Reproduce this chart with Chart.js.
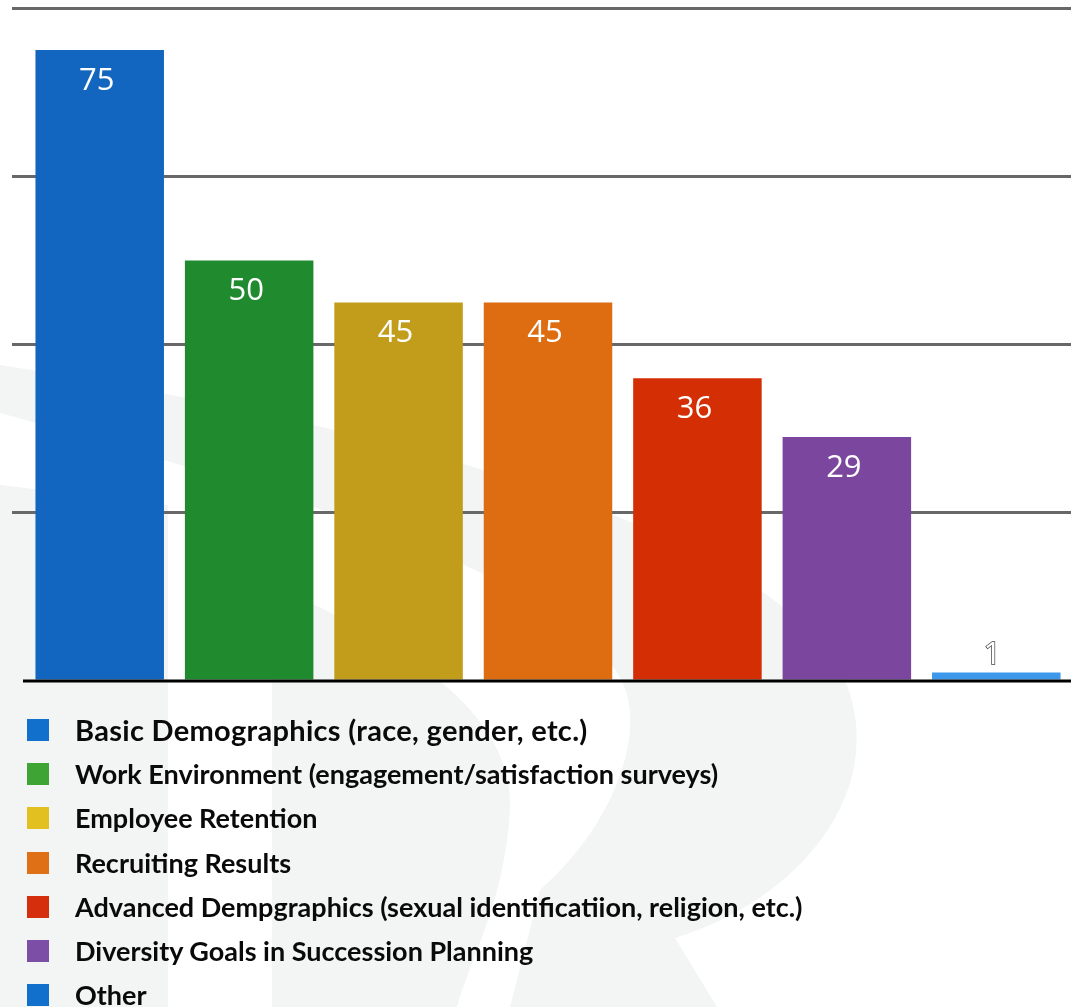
<!DOCTYPE html>
<html>
<head>
<meta charset="utf-8">
<script src="https://cdn.jsdelivr.net/npm/chart.js@4.4.0/dist/chart.umd.min.js"></script>
<style>
  html, body { margin: 0; padding: 0; background: #fff; }
  #wrap { position: relative; width: 1071px; height: 1007px; overflow: hidden; }
  #chart { position: absolute; left: 0; top: 0; }
  #legend { position: absolute; left: 0; top: 708px; margin: 0; padding: 0; list-style: none; }
  #legend li { position: relative; height: 44.2px; line-height: 44px; padding-left: 75px;
    font-family: Lato, "Open Sans", sans-serif; font-weight: 700; font-size: 27px; color: #0a0a0a; white-space: nowrap; }
  #legend li:first-child { font-size: 29px; letter-spacing: 0.3px; }
  #legend li span { position: absolute; left: 27px; top: 11px; width: 22px; height: 22px; }
</style>
</head>
<body>
<div id="wrap">
  <canvas id="chart" width="1071" height="1007"></canvas>
  <ul id="legend"></ul>
</div>
<script>
// datos de la grafica
const categories = [
    'Basic Demographics (race, gender, etc.)',
    'Work Environment (engagement/satisfaction surveys)',
    'Employee Retention',
    'Recruiting Results',
    'Advanced Dempgraphics (sexual identificatiion, religion, etc.)',
    'Diversity Goals in Succession Planning',
    'Other'
];
const values = [75, 50, 45, 45, 36, 29, 1];
const barColors = ['#1266c0', '#208a2f', '#c29d1b', '#de6c10', '#d32e04', '#7b479e', '#3d97ea'];
const legendColors = ['#1170cc', '#3ea535', '#e2c020', '#e07016', '#d42e0c', '#7d4ea6', '#1170cc'];
const yTicks = [0, 20, 40, 60, 80];

// marca de agua (R gris muy claro) detras de todo
const watermark = {
    id: 'watermark',
    beforeDraw(chart) {
        const c = chart.ctx;
        c.save();
        c.fillStyle = '#f3f5f4';
        // palo vertical
        c.beginPath();
        c.moveTo(0, 485);
        c.lineTo(168, 505);
        c.lineTo(168, 1007);
        c.lineTo(0, 1007);
        c.closePath();
        c.fill();
        // pieza interior
        c.beginPath();
        c.moveTo(272, 585);
        c.bezierCurveTo(420, 650, 515, 720, 510, 810);
        c.bezierCurveTo(505, 900, 470, 960, 457, 1007);
        c.lineTo(272, 1007);
        c.closePath();
        c.fill();
        // panza de la R
        c.beginPath();
        c.moveTo(0, 365);
        c.bezierCurveTo(350, 420, 770, 520, 845, 680);
        c.bezierCurveTo(890, 790, 800, 900, 675, 938);
        c.lineTo(717, 1007);
        c.lineTo(510, 1007);
        c.lineTo(540, 890);
        c.bezierCurveTo(620, 820, 650, 720, 617, 673);
        c.bezierCurveTo(560, 580, 330, 505, 0, 413);
        c.closePath();
        c.fill();
        c.restore();
    }
};

// etiquetas de valor y linea base negra
const barLabels = {
    id: 'barLabels',
    afterDatasetsDraw(chart) {
        const c = chart.ctx;
        const yScale = chart.scales.y;
        const y0 = yScale.getPixelForValue(0);
        c.save();
        c.strokeStyle = '#000';
        c.lineWidth = 3;
        c.beginPath();
        c.moveTo(chart.chartArea.left - 2, y0);
        c.lineTo(chart.width, y0);
        c.stroke();

        c.font = '31px "Open Sans", sans-serif';
        c.textAlign = 'center';
        c.textBaseline = 'middle';
        chart.getDatasetMeta(0).data.forEach((bar, i) => {
            const v = values[i];
            if (y0 - bar.y > 50) {
                c.fillStyle = '#fff';
                c.fillText(v, bar.x - 3, bar.y + 31);
            } else {
                c.lineWidth = 1.5;
                c.strokeStyle = '#444';
                c.strokeText(v, bar.x - 4, bar.y - 17);
                c.fillStyle = '#fff';
                c.fillText(v, bar.x - 4, bar.y - 17);
            }
        });
        c.restore();
    }
};

const ctx = document.getElementById('chart').getContext('2d');
const chart = new Chart(ctx, {
    type: 'bar',
    data: {
        labels: categories,
        datasets: [{
            data: values,
            backgroundColor: barColors,
            borderWidth: 0,
            categoryPercentage: 1,
            barPercentage: 0.86
        }]
    },
    options: {
        responsive: false,
        animation: false,
        devicePixelRatio: 1,
        layout: { padding: { left: 12, right: 0, top: 8, bottom: 326 } },
        scales: {
            x: { display: false },
            y: {
                min: yTicks[0],
                max: yTicks[yTicks.length - 1],
                afterBuildTicks: (scale) => { scale.ticks = yTicks.map(v => ({ value: v })); },
                ticks: { display: false },
                border: { display: false },
                grid: {
                    color: (c) => (c.tick && c.tick.value === 0) ? 'rgba(0,0,0,0)' : '#686868',
                    lineWidth: 3,
                    tickLength: 13
                }
            }
        },
        plugins: {
            legend: { display: false },
            tooltip: { enabled: false }
        }
    },
    plugins: [watermark, barLabels]
});

// leyenda en html
const legend = document.getElementById('legend');
categories.forEach((name, i) => {
    const li = document.createElement('li');
    const sw = document.createElement('span');
    sw.style.background = legendColors[i];
    li.appendChild(sw);
    li.appendChild(document.createTextNode(name));
    legend.appendChild(li);
});
</script>
</body>
</html>
